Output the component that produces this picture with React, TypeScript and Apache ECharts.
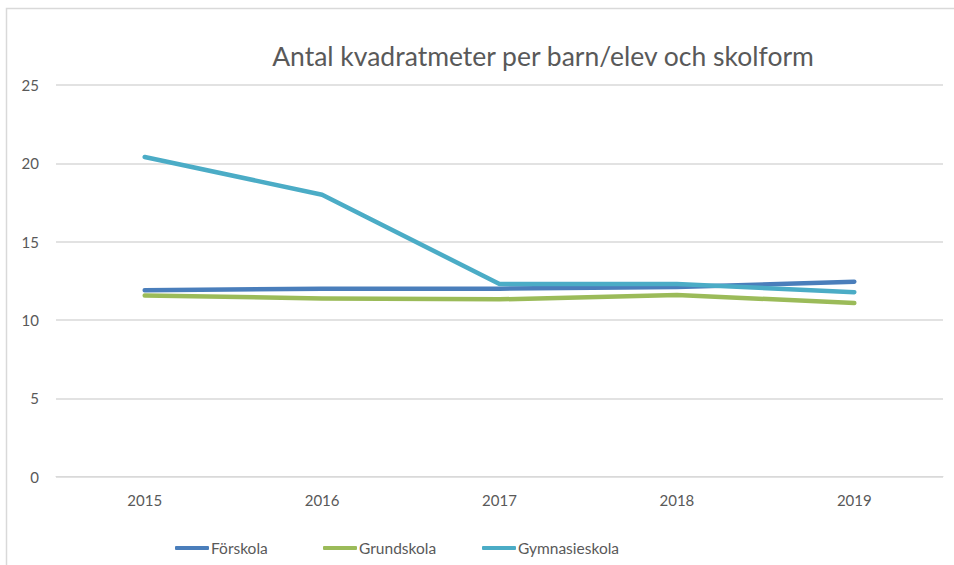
import React, { useEffect, useRef } from "react";
import * as echarts from "echarts";

const years = ["2015", "2016", "2017", "2018", "2019"];
const forskola = [11.9, 12.0, 12.0, 12.1, 12.45];
const grundskola = [11.57, 11.38, 11.32, 11.6, 11.08];
const gymnasieskola = [20.4, 18.0, 12.3, 12.3, 11.78];
const seriesNames = ["Förskola", "Grundskola", "Gymnasieskola"];
const colors = ["#4a7ebb", "#9bbb59", "#4bacc6"];

export default function App() {
  const ref = useRef<HTMLDivElement>(null);
  useEffect(() => {
    if (!ref.current) return;
    const chart = echarts.init(ref.current, null, { renderer: "svg" });
    const font = "Lato, 'Open Sans', sans-serif";
    const legendLefts = [175, 323, 482];
    const data = [forskola, grundskola, gymnasieskola];
    chart.setOption({
      animation: false,
      backgroundColor: "#ffffff",
      title: {
        text: "Antal kvadratmeter per barn/elev och skolform",
        left: 538,
        top: 37,
        textAlign: "center",
        textStyle: { fontFamily: font, fontSize: 26.5, fontWeight: "normal", color: "#595959" },
      },
      graphic: [
        {
          type: "rect",
          shape: { x: 6.5, y: 8.5, width: 1000, height: 700 },
          style: { fill: "none", stroke: "#d9d9d9", lineWidth: 1.5 },
          silent: true,
        },
      ],
      legend: seriesNames.map((n, i) => ({
        data: [n],
        left: legendLefts[i],
        top: 540,
        padding: 0,
        itemWidth: 34,
        itemHeight: 4,
        itemGap: 0,
        icon: "roundRect",
        textStyle: { fontFamily: font, fontSize: 15.5, color: "#595959", padding: [0, 0, 0, -3] },
      })),
      grid: { left: 56, right: 11, top: 85, bottom: 88.3 },
      xAxis: {
        type: "category",
        data: years,
        boundaryGap: true,
        axisLine: { show: true, lineStyle: { color: "#d9d9d9", width: 1 } },
        axisTick: { show: false },
        axisLabel: { margin: 16, fontFamily: font, fontSize: 15, color: "#595959" },
      },
      yAxis: {
        type: "value",
        min: 0,
        max: 25,
        interval: 5,
        axisLine: { show: false },
        axisTick: { show: false },
        splitLine: { lineStyle: { color: "#d9d9d9", width: 1.5 } },
        axisLabel: { margin: 17, fontFamily: font, fontSize: 15, color: "#595959" },
      },
      series: seriesNames.map((n, i) => ({
        name: n,
        type: "line",
        data: data[i],
        color: colors[i],
        symbol: "none",
        lineStyle: { width: 4.5, color: colors[i], cap: "round", join: "round" },
      })),
    });
    return () => chart.dispose();
  }, []);
  return (
    <div
      ref={ref}
      style={{ position: "absolute", left: 0, top: 0, width: 954, height: 565 }}
    />
  );
}
